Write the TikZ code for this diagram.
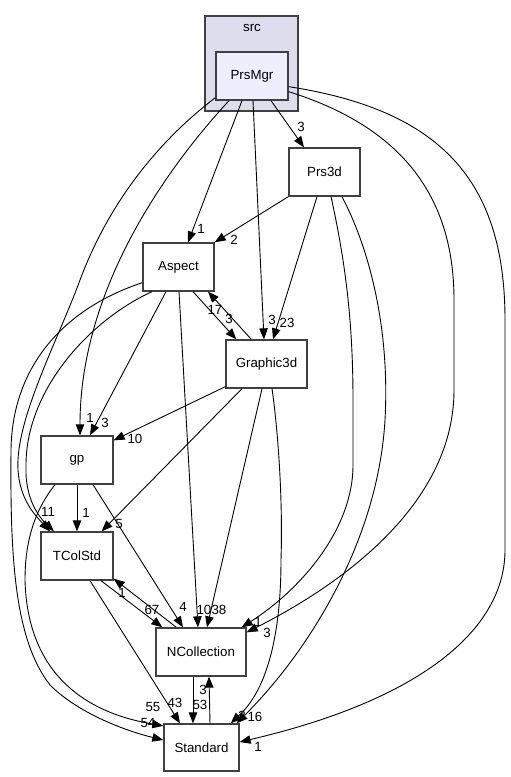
\documentclass[tikz,border=0pt]{standalone}
\usepackage{fontspec}
\setmainfont{Liberation Sans}
\usetikzlibrary{arrows.meta,calc}
\definecolor{clusterfill}{HTML}{DDDDEE}
\definecolor{pkgfill}{HTML}{EEEEFF}
\definecolor{boxline}{HTML}{404040}
\tikzset{
  dirbox/.style={draw=boxline,line width=1.3pt,fill=white,minimum height=48pt,inner sep=0pt,font=\fontsize{13.3}{15}\selectfont},
  clusterbox/.style={draw=boxline,line width=1.3pt,fill=clusterfill,inner sep=0pt},
  dep/.style={draw=black,line width=0.9pt,-{Triangle[length=11pt,width=8.5pt]}},
  elabel/.style={inner sep=0pt,font=\fontsize{13.3}{15}\selectfont}
}
\begin{document}
\begin{tikzpicture}[x=1pt,y=-1pt]
\useasboundingbox (0,0) rectangle (511,777);
% cluster
\node[clusterbox,minimum width=93pt,minimum height=95pt] (srcbox) at (251.5,63.5) {};
\node[elabel] (srclbl) at (252,28) {src};
% nodes
\node[dirbox,fill=pkgfill,minimum width=72pt] (prsmgr) at (252,76) {PrsMgr};
\node[dirbox,minimum width=71pt] (prs3d) at (324.5,172) {Prs3d};
\node[dirbox,minimum width=71pt] (aspect) at (178.5,267) {Aspect};
\node[dirbox,minimum width=81pt] (graphic3d) at (266.5,364) {Graphic3d};
\node[dirbox,minimum width=72pt] (gp) at (77,460) {gp};
\node[dirbox,minimum width=72pt] (tcolstd) at (77,556) {TColStd};
\node[dirbox,minimum width=90pt] (ncoll) at (201,652) {NCollection};
\node[dirbox,minimum width=75pt,minimum height=47pt] (standard) at (201.5,747.5) {Standard};
% straight edges
\draw[dep] ($(prsmgr.south)+(19,0)$) -- ($(prs3d.north)+(-20.5,0)$);
\draw[dep] ($(prsmgr.south)+(-10,0)$) -- ($(aspect.north)+(9.5,0)$);
\draw[dep] ($(prsmgr.south)+(1,0)$) -- ($(graphic3d.north)+(-2.5,0)$);
\draw[dep] (prs3d.south west) -- (aspect.north east);
\draw[dep] ($(prs3d.south)+(-7.5,0)$) -- ($(graphic3d.north)+(6.5,0)$);
\draw[dep] ($(aspect.south)+(14.5,0)$) -- ($(graphic3d.north west)+(11,0)$);
\draw[dep] ($(graphic3d.north west)+(26,0)$) -- ($(aspect.south)+(29.5,0)$);
\draw[dep] ($(aspect.south)+(-12.5,0)$) -- ($(gp.north)+(13,0)$);
\draw[dep] ($(aspect.south)+(0.5,0)$) -- ($(ncoll.north)+(-3,0)$);
\draw[dep] ($(graphic3d.south west)+(0,-2)$) -- ($(gp.north east)+(0,5)$);
\draw[dep] ($(graphic3d.south)+(-24.5,0)$) -- ($(tcolstd.north east)+(-12,0)$);
\draw[dep] ($(graphic3d.south)+(-4.5,0)$) -- ($(ncoll.north)+(6,0)$);
\draw[dep] (gp.south) -- (tcolstd.north);
\draw[dep] ($(gp.south)+(16,0)$) -- ($(ncoll.north)+(-18,0)$);
\draw[dep] ($(tcolstd.south)+(24,0)$) -- ($(ncoll.north west)+(7,0)$);
\draw[dep] ($(ncoll.north west)+(21,0)$) -- ($(tcolstd.south east)+(0,-2)$);
\draw[dep] ($(tcolstd.south)+(13,0)$) -- ($(standard.north)+(-21.5,0)$);
\draw[dep] ($(ncoll.south)+(-8,0)$) -- ($(standard.north)+(-8.5,0)$);
\draw[dep] ($(standard.north)+(8.5,0)$) -- ($(ncoll.south)+(8,0)$);
% curved edges
\draw[dep] ($(prsmgr.south)+(-23,0)$) .. controls (165,170) and (80,290) .. ($(gp.north)+(3,0)$);
\draw[dep] ($(prsmgr.south west)+(0,-3)$) .. controls (160,140) and (110,200) .. (80,280)
  .. controls (58,340) and (15,420) .. (18,470) .. controls (20,500) and (35,515) .. ($(tcolstd.north)+(-27,0)$);
\draw[dep] ($(aspect.south)+(-26.5,0)$) .. controls (90,320) and (25,390) .. (26,467)
  .. controls (25,500) and (40,518) .. ($(tcolstd.north)+(-23,0)$);
\draw[dep] ($(aspect.south west)+(0,-9)$) .. controls (60,310) and (12,370) .. (11,450)
  .. controls (10,560) and (15,640) .. (50,685) .. controls (80,715) and (130,732) .. ($(standard.west)+(0,-7.5)$);
\draw[dep] ($(gp.south)+(-22,0)$) .. controls (35,510) and (25,540) .. (25,580)
  .. controls (27,660) and (70,710) .. ($(standard.north west)+(0,2.5)$);
\draw[dep] ($(graphic3d.south)+(5.5,0)$) .. controls (278,430) and (283,500) .. (281,560)
  .. controls (281,620) and (272,685) .. ($(standard.north east)+(-9,0)$);
\draw[dep] ($(prs3d.south)+(17.5,0)$) .. controls (370,250) and (390,330) .. (385,420)
  .. controls (378,540) and (310,650) .. ($(standard.north east)+(-3,0)$);
\draw[dep] ($(prs3d.south)+(6.5,0)$) .. controls (345,260) and (353,320) .. (353,400) -- (353,465)
  .. controls (353,530) and (300,590) .. ($(ncoll.north east)+(-5,0)$);
\draw[dep] ($(prsmgr.south east)+(0,-9)$) .. controls (395,125) and (454,190) .. (454,300) -- (454,390)
  .. controls (454,500) and (350,580) .. ($(ncoll.north east)+(0,5)$);
\draw[dep] ($(prsmgr.south east)+(0,-14)$) .. controls (440,110) and (505,180) .. (505,320) -- (505,550)
  .. controls (505,630) and (420,700) .. ($(standard.east)+(0,-5.5)$);
% edge labels
\node[elabel] (l1) at (301,127) {3};
\node[elabel] (l2) at (201,229) {1};
\node[elabel] (l3) at (234,240) {2};
\node[elabel] (l4) at (272,320) {3};
\node[elabel] (l5) at (287,323) {23};
\node[elabel] (l6) at (229,319) {3};
\node[elabel] (l7) at (215,310) {17};
\node[elabel] (l8) at (90,418) {1};
\node[elabel] (l9) at (105,423) {3};
\node[elabel] (l10) at (135,439) {10};
\node[elabel] (l11) at (48,512) {11};
\node[elabel] (l12) at (86,513) {1};
\node[elabel] (l13) at (119,524) {5};
\node[elabel] (l14) at (122,593) {1};
\node[elabel] (l15) at (152,610) {67};
\node[elabel] (l16) at (183,607) {4};
\node[elabel] (l17) at (204,610) {10};
\node[elabel] (l18) at (219,610) {38};
\node[elabel] (l19) at (258,622) {1};
\node[elabel] (l20) at (267,633) {3};
\node[elabel] (l21) at (153,707) {55};
\node[elabel] (l22) at (175,703) {43};
\node[elabel] (l23) at (203,690) {3};
\node[elabel] (l24) at (200,705) {53};
\node[elabel] (l25) at (148,723) {54};
\node[elabel] (l26) at (242,716) {3};
\node[elabel] (l27) at (255,717) {16};
\node[elabel] (l28) at (258,747) {1};
\end{tikzpicture}
\end{document}
